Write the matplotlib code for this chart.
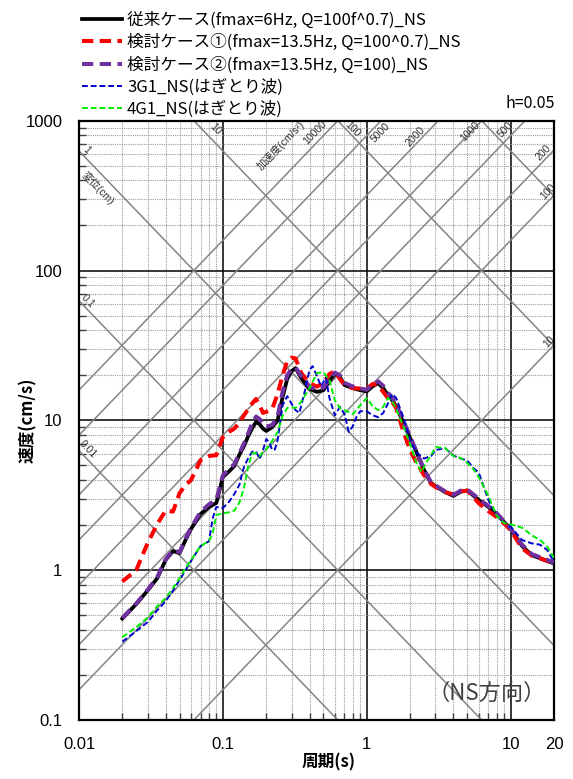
import numpy as np
import matplotlib
matplotlib.use("Agg")
import matplotlib.pyplot as plt
from matplotlib.ticker import FixedLocator, NullFormatter, LogLocator

plt.rcParams['font.family'] = ['Noto Sans CJK JP', 'DejaVu Sans']

# period (s) shared by the three simulated cases
period = [0.02, 0.025, 0.03, 0.035, 0.04, 0.045, 0.05, 0.055, 0.06, 0.07, 0.08, 0.09,
          0.1, 0.11, 0.12, 0.13, 0.14, 0.15, 0.16, 0.17, 0.18, 0.19, 0.2, 0.22, 0.24,
          0.26, 0.28, 0.3, 0.32, 0.35, 0.4, 0.45, 0.5, 0.55, 0.6, 0.65, 0.7, 0.8, 0.9,
          1.0, 1.1, 1.2, 1.3, 1.4, 1.5, 1.6, 1.8, 2.0, 2.2, 2.5, 2.8, 3.0, 3.5, 4.0,
          4.5, 5.0, 6.0, 7.0, 8.0, 9.0, 10, 12, 14, 16, 18, 20]

sv_base = [0.475, 0.594, 0.731, 0.885, 1.17, 1.34, 1.30, 1.59, 1.88, 2.37, 2.64, 2.81,
           4.19, 4.55, 4.95, 5.87, 6.73, 7.85, 8.89, 9.75, 9.44, 8.8, 8.5, 9.0, 10.0,
           14.3, 18.9, 21.3, 22.3, 19.2, 16.2, 15.5, 15.9, 18.3, 20.4, 19.5, 17.2, 16.4, 15.9,
           15.6, 16.9, 17.7, 16.4, 14.8, 13.7, 12.4, 9.6, 7.62, 6.24, 4.66, 3.81, 3.64, 3.32, 3.13,
           3.35, 3.40, 2.94, 2.64, 2.37, 2.09, 1.88, 1.45, 1.26, 1.20, 1.15, 1.11]

sv_case1 = [0.84, 1.0, 1.52, 2.03, 2.50, 2.46, 3.27, 3.70, 3.99, 5.43, 5.78, 5.86,
            7.73, 8.36, 8.81, 9.59, 10.8, 11.9, 13.0, 13.9, 12.6, 11.2, 11.4, 11.9, 15.0,
            20.0, 24.9, 26.2, 25.9, 20.7, 17.7, 16.8, 17.7, 20.4, 21.3, 18.9, 17.2, 16.4, 16.3,
            16.3, 17.5, 17.2, 15.5, 14.1, 13.3, 12.1, 8.36, 6.33, 5.27, 4.31, 3.76, 3.59, 3.32, 3.20,
            3.35, 3.40, 2.80, 2.48, 2.26, 2.05, 1.85, 1.40, 1.25, 1.20, 1.15, 1.11]

sv_case2 = [0.48, 0.60, 0.74, 0.90, 1.18, 1.36, 1.32, 1.62, 1.92, 2.45, 2.75, 2.95,
            4.3, 4.7, 5.1, 6.0, 7.0, 8.2, 9.6, 10.6, 10.2, 9.3, 9.1, 9.3, 10.6,
            15.5, 20.0, 22.0, 22.5, 19.8, 16.8, 16.0, 16.5, 18.8, 20.8, 20.0, 17.8, 16.8, 16.3,
            16.0, 17.5, 18.2, 17.0, 15.3, 14.2, 12.8, 9.9, 7.8, 6.3, 4.7, 3.85, 3.68, 3.36, 3.18,
            3.40, 3.45, 3.0, 2.68, 2.40, 2.12, 1.90, 1.48, 1.28, 1.22, 1.17, 1.12]

# observed (stripped) waves
period_3g1 = [0.02, 0.025, 0.03, 0.035, 0.04, 0.045, 0.05, 0.055, 0.06, 0.07, 0.08, 0.085, 0.09,
              0.1, 0.11, 0.12, 0.13, 0.14, 0.15, 0.16, 0.17, 0.18, 0.19, 0.2, 0.21, 0.22, 0.23,
              0.24, 0.26, 0.28, 0.3, 0.32, 0.34, 0.37, 0.4, 0.42, 0.45, 0.48, 0.52, 0.55, 0.6,
              0.65, 0.7, 0.75, 0.8, 0.85, 0.9, 1.0, 1.1, 1.2, 1.3, 1.4, 1.5, 1.6, 1.8, 2.0, 2.2,
              2.5, 2.8, 3.0, 3.5, 4.0, 4.5, 5.0, 5.5, 6.0, 7.0, 8.0, 9.0, 10, 12, 14, 16, 18, 20]
sv_3g1 = [0.333, 0.392, 0.45, 0.54, 0.62, 0.73, 0.86, 1.0, 1.15, 1.45, 1.56, 2.23, 2.64,
          2.6, 2.85, 3.22, 3.70, 4.88, 5.60, 6.19, 6.2, 5.52, 6.3, 7.50, 7.16, 6.33, 6.4,
          7.39, 12.6, 14.5, 12.9, 11.7, 11.2, 15.5, 21.7, 23.0, 19.8, 16.9, 19.2, 14.1, 10.8,
          12.3, 11.0, 8.36, 9.16, 10.6, 11.5, 11.5, 10.8, 10.5, 11.2, 12.9, 15.0, 14.1, 10.4, 7.39, 6.14,
          5.56, 5.78, 6.34, 6.53, 5.82, 5.56, 5.39, 4.81, 4.48, 2.94, 2.30, 2.08, 1.95, 1.59, 1.51, 1.48, 1.36, 1.13]

period_4g1 = [0.02, 0.025, 0.03, 0.035, 0.04, 0.045, 0.05, 0.055, 0.06, 0.07, 0.08, 0.085, 0.09,
              0.1, 0.11, 0.12, 0.13, 0.14, 0.15, 0.16, 0.17, 0.18, 0.19, 0.2, 0.22, 0.24, 0.26,
              0.28, 0.3, 0.32, 0.35, 0.4, 0.45, 0.5, 0.55, 0.6, 0.65, 0.7, 0.8, 0.9, 1.0, 1.1,
              1.2, 1.3, 1.4, 1.5, 1.6, 1.8, 2.0, 2.2, 2.4, 2.6, 2.8, 3.0, 3.5, 4.0, 4.5, 5.0,
              5.5, 6.0, 7.0, 8.0, 9.0, 10, 12, 14, 16, 18, 20]
sv_4g1 = [0.357, 0.417, 0.483, 0.575, 0.652, 0.759, 0.885, 1.03, 1.17, 1.45, 1.56, 1.77, 2.33,
          2.40, 2.43, 2.50, 2.81, 3.53, 4.95, 6.03, 6.03, 5.78, 6.14, 6.43, 7.28, 8.36, 10.7,
          12.1, 12.2, 12.1, 13.3, 16.4, 20.7, 20.9, 18.6, 13.6, 12.1, 11.7, 11.0, 12.6, 14.1, 12.4,
          11.7, 12.3, 14.1, 13.5, 11.9, 9.02, 6.95, 5.27, 4.52, 5.27, 5.86, 6.64, 6.53, 5.78, 5.60, 5.19,
          4.73, 4.18, 3.13, 2.30, 2.06, 2.02, 1.92, 1.71, 1.59, 1.43, 1.21]

labels = ["従来ケース(fmax=6Hz, Q=100f^0.7)_NS",
          "検討ケース①(fmax=13.5Hz, Q=100^0.7)_NS",
          "検討ケース②(fmax=13.5Hz, Q=100)_NS",
          "3G1_NS(はぎとり波)",
          "4G1_NS(はぎとり波)"]

# tripartite guide lines
disp_levels = [0.01, 0.1, 1, 10, 100, 1000]
acc_levels = [10, 100, 200, 500, 1000, 2000, 5000, 10000]

# (text, period, velocity, angle) for guide labels
disp_marks = [("1", 0.0112, 640, -46), ("10", 0.088, 880, -46), ("100", 0.80, 880, -46),
              ("0.1", 0.0115, 62, -46), ("0.01", 0.0116, 6.4, -46), ("変位(cm)", 0.0136, 356, -46)]
acc_marks = [("加速度(cm/s²)", 0.254, 690, 46), ("10000", 0.437, 840, 46), ("5000", 1.24, 830, 46),
             ("2000", 2.17, 780, 46), ("1000", 5.26, 840, 46), ("500", 9.2, 865, 46),
             ("200", 16.8, 610, 46), ("100", 18.1, 334, 46), ("10", 18.4, 33.4, 46)]

W, H = 573, 779
fig = plt.figure(figsize=(W / 100, H / 100), dpi=100)
ax = fig.add_axes([79 / W, 1 - 720 / H, (554 - 79) / W, (720 - 120.7) / H])
ax.set_xscale('log')
ax.set_yscale('log')
ax.set_xlim(0.01, 20)
ax.set_ylim(0.1, 1000)

tt = np.logspace(-2.3, 1.6, 300)
for d in disp_levels:
    ax.plot(tt, 2 * np.pi * d / tt, color='#858585', lw=1.1, zorder=1.5)
for a in acc_levels:
    ax.plot(tt, a * tt / (2 * np.pi), color='#858585', lw=1.1, zorder=1.5)
for txt, t, v, r in disp_marks + acc_marks:
    ax.text(t, v, txt, fontsize=7.5, rotation=r, ha='center', va='center',
            rotation_mode='anchor', color='#303030', zorder=2,
            family=['Liberation Sans', 'Noto Sans CJK JP'])

h1, = ax.plot(period, sv_base, color='black', lw=2.7, zorder=3, label=labels[0])
h2, = ax.plot(period, sv_case1, color='#ff0000', lw=2.9, dashes=(2.8, 1.6), zorder=3, label=labels[1])
h3, = ax.plot(period, sv_case2, color='#7030a0', lw=2.9, dashes=(2.8, 1.6), zorder=3, label=labels[2])
h4, = ax.plot(period_3g1, sv_3g1, color='#0000cc', lw=1.4, dashes=(3, 1.5), zorder=3, label=labels[3])
h5, = ax.plot(period_4g1, sv_4g1, color='#00ee00', lw=1.4, dashes=(3, 1.5), zorder=3, label=labels[4])

ax.xaxis.set_major_locator(FixedLocator([0.01, 0.1, 1, 10, 20]))
ax.xaxis.set_major_formatter(plt.FixedFormatter(["0.01", "0.1", "1", "10", "20"]))
ax.xaxis.set_minor_locator(LogLocator(base=10, subs=np.arange(2, 10)))
ax.xaxis.set_minor_formatter(NullFormatter())
ax.yaxis.set_major_locator(FixedLocator([0.1, 1, 10, 100, 1000]))
ax.yaxis.set_major_formatter(plt.FixedFormatter(["0.1", "1", "10", "100", "1000"]))
ax.yaxis.set_minor_locator(LogLocator(base=10, subs=np.arange(2, 10)))
ax.yaxis.set_minor_formatter(NullFormatter())

ax.grid(which='major', color='black', lw=1.1, zorder=1)
ax.grid(which='minor', color='#9a9a9a', ls=(0, (1, 1)), lw=0.8, zorder=1)
ax.set_axisbelow(True)
ax.tick_params(which='both', direction='in', top=False, right=False, labelsize=12)
ax.tick_params(which='major', length=0, pad=12)
ax.tick_params(which='minor', length=5, width=1, color='#404040')
for lab in ax.get_xticklabels() + ax.get_yticklabels():
    lab.set_family(['Liberation Sans', 'DejaVu Sans'])
for s in ax.spines.values():
    s.set_linewidth(1.6)

ax.text(0.859, 0.045, "（NS方向）", transform=ax.transAxes, fontsize=16, color='#404040',
        ha='center', va='center')

fig.text(28 / W, 1 - 420 / H, "速度(cm/s)", rotation=90, ha='center', va='center',
         fontsize=12, fontweight='bold')
fig.text(329 / W, 1 - 762 / H, "周期(s)", ha='center', va='center', fontsize=12, fontweight='bold')
fig.text(555 / W, 1 - 104 / H, "h=0.05", ha='right', va='center', fontsize=11.5)

fig.legend(handles=[h1, h2, h3, h4, h5], loc='upper left', bbox_to_anchor=(82 / W, 1 - 12 / H),
           frameon=False, fontsize=12, handlelength=2.4, labelspacing=0.29,
           handletextpad=0.3, borderaxespad=0, borderpad=0)

fig.savefig("out.png", dpi=100)
